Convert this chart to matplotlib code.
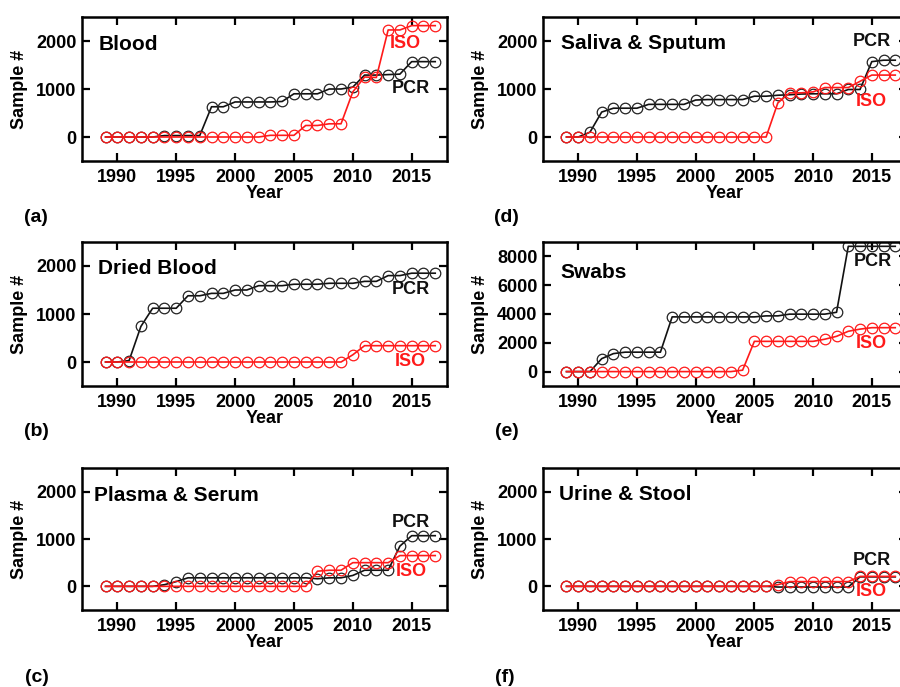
import numpy as np
import matplotlib
matplotlib.use("Agg")
import matplotlib.pyplot as plt

plt.rcParams['font.family'] = ['Liberation Sans', 'DejaVu Sans']
plt.rcParams['font.weight'] = 'bold'

years = list(range(1989, 2018))

blood_pcr = [0, 0, 0, 0, 0, 30, 30, 30, 30, 630, 630, 730, 730, 730, 730, 740,
             900, 900, 900, 1000, 1000, 1040, 1290, 1290, 1300, 1310, 1570, 1570, 1570]
blood_iso = [0] * 14 + [35, 35, 35, 240, 240, 275, 275, 940, 1250, 1240, 2230, 2230,
                        2320, 2320, 2320]

dried_pcr = [0, 0, 30, 740, 1120, 1120, 1120, 1380, 1380, 1430, 1430, 1500, 1500, 1590,
             1590, 1590, 1620, 1620, 1620, 1640, 1640, 1640, 1680, 1680, 1800, 1800,
             1850, 1850, 1850]
dried_iso = [0] * 21 + [150, 340, 340, 340, 340, 340, 340, 340]

plasma_pcr = [0, 0, 0, 0, 0, 35, 100] + [180] * 11 + [160, 180, 180, 230, 340, 340, 340,
                                                      850, 1070, 1070, 1070]
plasma_iso = [0] * 18 + [320, 340, 340, 500, 500, 500, 500, 650, 650, 650, 650]

saliva_pcr = [0, 0, 100, 520, 600, 600, 600, 680, 680, 680, 680, 770, 780, 780, 780, 780,
              850, 850, 870, 880, 895, 900, 900, 900, 990, 990, 1570, 1600, 1600]
saliva_iso = [0] * 18 + [710, 920, 920, 940, 1030, 1030, 1030, 1160, 1290, 1290, 1290]

swabs_pcr = [0, 0, 0, 900, 1250, 1350, 1350, 1350, 1350] + [3800] * 8 + \
            [3870, 3870, 3990, 3990, 3990, 3990, 4120, 8700, 8700, 8700, 8700, 8700]
swabs_iso = [0] * 15 + [100, 2100, 2100, 2100, 2100, 2100, 2100, 2250, 2450, 2800, 2950,
                        3050, 3050, 3050]

urine_pcr = [0] * 18 + [-15] * 7 + [200, 200, 200, 200]
urine_iso = [0] * 18 + [35, 100, 100, 100, 100, 100, 100, 210, 210, 210, 210]

W, H = 900, 687
fig = plt.figure(figsize=(W / 100, H / 100), dpi=100)


def px_axes(x0, y0, x1, y1):
    return fig.add_axes([x0 / W, 1 - y1 / H, (x1 - x0) / W, (y1 - y0) / H])


# name, pcr, iso, ylim, yticks, axes box (px), title pos, PCR pos, ISO pos, letter
panels = [
    ("Blood", blood_pcr, blood_iso, (-500, 2500), [0, 1000, 2000],
     (82, 17, 447, 161), (1988.4, 1930), (2014.9, 1015), (2014.5, 1950), "(a)", (24, 218)),
    ("Dried Blood", dried_pcr, dried_iso, (-500, 2500), [0, 1000, 2000],
     (82, 242, 447, 386), (1988.4, 1950), (2014.9, 1500), (2014.9, 10), "(b)", (24, 432)),
    ("Plasma & Serum", plasma_pcr, plasma_iso, (-500, 2500), [0, 1000, 2000],
     (82, 468, 447, 610), (1988.0, 1920), (2014.9, 1350), (2015.0, 320), "(c)", (25, 678)),
    ("Saliva & Sputum", saliva_pcr, saliva_iso, (-500, 2500), [0, 1000, 2000],
     (543, 17, 907, 161), (1988.5, 1950), (2015.0, 2000), (2015.0, 730), "(d)", (494, 218)),
    ("Swabs", swabs_pcr, swabs_iso, (-1000, 9000), [0, 2000, 4000, 6000, 8000],
     (543, 242, 907, 386), (1988.5, 6900), (2015.1, 7650), (2015.0, 1950), "(e)", (495, 432)),
    ("Urine & Stool", urine_pcr, urine_iso, (-500, 2500), [0, 1000, 2000],
     (543, 468, 907, 610), (1988.4, 1950), (2015.0, 550), (2015.0, -100), "(f)", (495, 678)),
]

red = '#ff1a1a'
for (name, pcr, iso, ylim, yticks, box, tpos, ppos, ipos, letter, lpos) in panels:
    ax = px_axes(*box)
    ax.plot(years, pcr, '-o', color='#111111', lw=1.2, ms=7.6, mfc='none',
            mec='#222222', mew=0.9)
    ax.plot(years, iso, '-o', color=red, lw=1.2, ms=7.6, mfc='none',
            mec=red, mew=0.9)
    ax.set_xlim(1987, 2018)
    ax.set_ylim(*ylim)
    ax.set_xticks([1990, 1995, 2000, 2005, 2010, 2015])
    ax.set_yticks(yticks)
    ax.tick_params(direction='in', length=6, width=1.6, labelsize=13,
                   top=True, right=True, pad=4)
    ax.tick_params(axis='x', pad=6)
    for s in ax.spines.values():
        s.set_linewidth(1.8)
    ax.set_xlabel("Year", fontsize=13, fontweight='bold', labelpad=-1)
    ax.set_ylabel("Sample #", fontsize=13, fontweight='bold', labelpad=6)
    ax.text(tpos[0], tpos[1], name, fontsize=15, fontweight='bold', ha='left', va='center')
    ax.text(ppos[0], ppos[1], "PCR", fontsize=13, fontweight='bold', ha='center',
            va='center', color='#111111')
    ax.text(ipos[0], ipos[1], "ISO", fontsize=13, fontweight='bold', ha='center',
            va='center', color=red)
    fig.text(lpos[0] / W, 1 - lpos[1] / H, letter, fontsize=14, fontweight='bold',
             ha='left', va='center')

fig.savefig("out.png", dpi=100)
